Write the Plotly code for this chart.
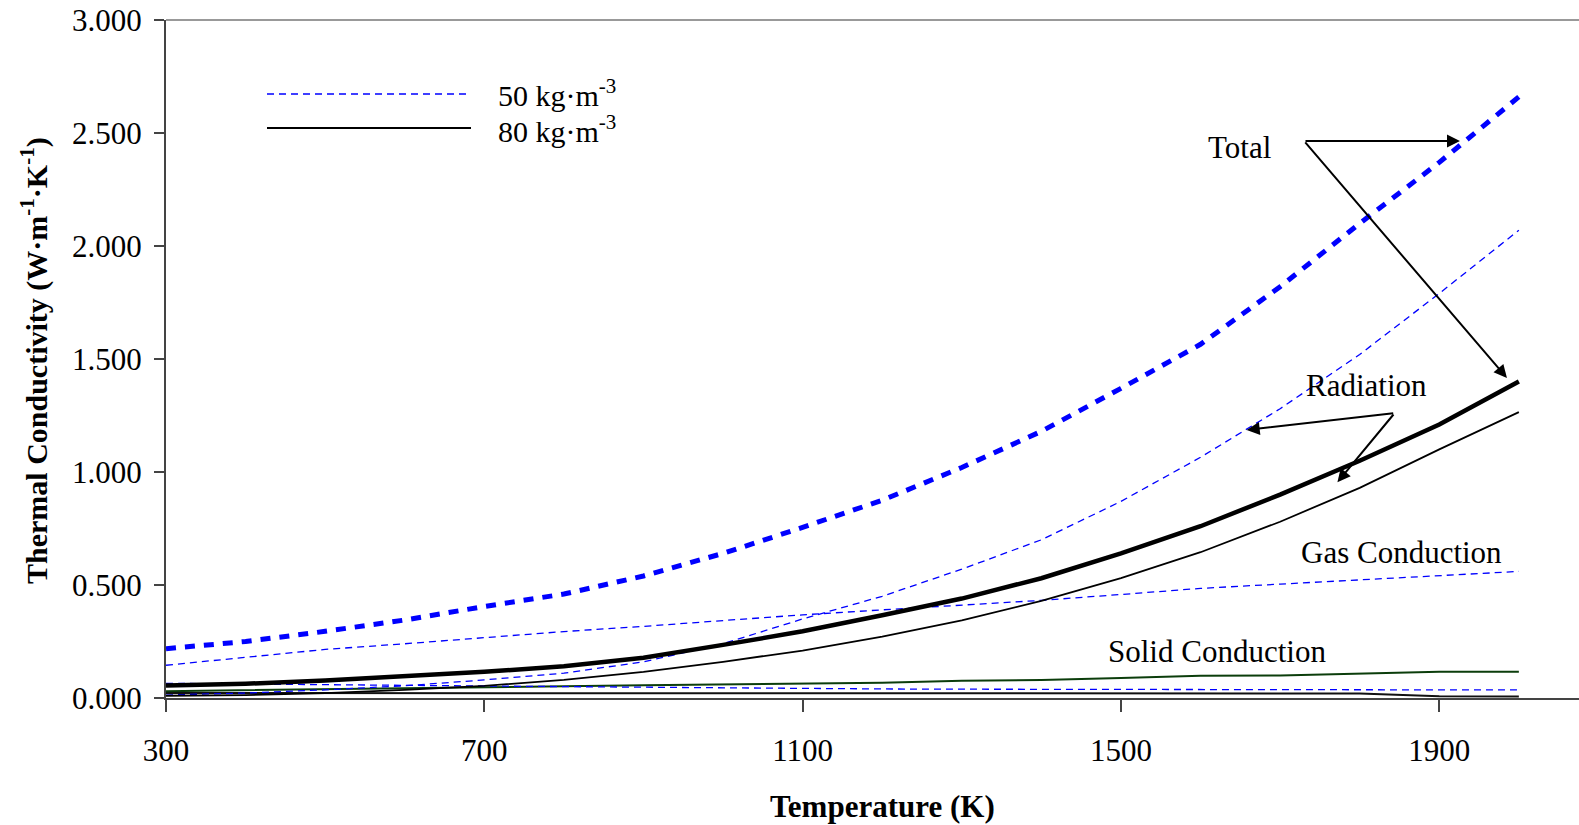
import plotly.graph_objects as go

temperature = [300, 400, 500, 600, 700, 800, 900, 1000, 1100, 1200,
               1300, 1400, 1500, 1600, 1700, 1800, 1900, 2000]

# 50 kg/m3 (blue)
total_50 = [0.218, 0.250, 0.295, 0.345, 0.405, 0.460, 0.540, 0.640, 0.755, 0.875,
            1.020, 1.180, 1.370, 1.565, 1.820, 2.100, 2.370, 2.660]
radiation_50 = [0.013, 0.022, 0.036, 0.054, 0.080, 0.110, 0.160, 0.240, 0.350, 0.450,
                0.570, 0.700, 0.870, 1.065, 1.280, 1.520, 1.790, 2.070]
gas_50 = [0.145, 0.180, 0.215, 0.240, 0.268, 0.294, 0.317, 0.343, 0.368, 0.390,
          0.410, 0.432, 0.458, 0.485, 0.504, 0.522, 0.540, 0.560]
solid_50 = [0.065, 0.063, 0.060, 0.056, 0.053, 0.050, 0.048, 0.045, 0.042, 0.040,
            0.039, 0.038, 0.038, 0.037, 0.037, 0.036, 0.036, 0.036]

# 80 kg/m3 (black / green)
total_80 = [0.055, 0.063, 0.077, 0.095, 0.116, 0.140, 0.178, 0.235, 0.295, 0.366,
            0.440, 0.530, 0.640, 0.760, 0.900, 1.050, 1.210, 1.400]
radiation_80 = [0.010, 0.013, 0.022, 0.036, 0.054, 0.080, 0.116, 0.160, 0.210, 0.272,
                0.343, 0.430, 0.530, 0.645, 0.780, 0.930, 1.100, 1.265]
conduction_80 = [0.030, 0.035, 0.040, 0.044, 0.047, 0.052, 0.056, 0.060, 0.062, 0.068,
                 0.076, 0.080, 0.089, 0.098, 0.100, 0.108, 0.116, 0.116]
solid_80 = [0.022, 0.022, 0.022, 0.022, 0.022, 0.022, 0.022, 0.022, 0.022, 0.022,
            0.022, 0.022, 0.021, 0.021, 0.021, 0.020, 0.008, 0.007]

x_ticks = [300, 700, 1100, 1500, 1900]
y_ticks = [0.0, 0.5, 1.0, 1.5, 2.0, 2.5, 3.0]

BLUE = "#0000ff"
FONT = "Liberation Serif"

fig = go.Figure()

def add(y, color, width, dash):
    fig.add_trace(go.Scatter(x=temperature, y=y, mode="lines",
                             line=dict(color=color, width=width, dash=dash),
                             showlegend=False, hoverinfo="skip"))

add(solid_80, "#111111", 2, "solid")
add(conduction_80, "#0b3d0b", 2, "solid")
add(solid_50, BLUE, 1.3, "7px,5px")
add(gas_50, BLUE, 1.3, "7px,5px")
add(radiation_50, BLUE, 1.3, "7px,5px")
add(radiation_80, "#000000", 1.8, "solid")
add(total_80, "#000000", 4.5, "solid")
add(total_50, BLUE, 5, "10px,9px")

L, T, W, H = 166, 20, 1413, 678

def px(xp):
    return (xp - L) / W

def py(yp):
    return (T + H - yp) / H

annotations = []
shapes = []

# legend
shapes.append(dict(type="line", xref="paper", yref="paper", x0=px(267), x1=px(471),
                   y0=py(94), y1=py(94), line=dict(color=BLUE, width=1.5, dash="7px,5px")))
shapes.append(dict(type="line", xref="paper", yref="paper", x0=px(267), x1=px(471),
                   y0=py(128), y1=py(128), line=dict(color="#000000", width=2)))
annotations.append(dict(text="50 kg·m<sup>-3</sup>", xref="paper", yref="paper",
                        x=px(496), y=py(93), xanchor="left", yanchor="middle",
                        showarrow=False, font=dict(family=FONT, size=30, color="black")))
annotations.append(dict(text="80 kg·m<sup>-3</sup>", xref="paper", yref="paper",
                        x=px(496), y=py(129), xanchor="left", yanchor="middle",
                        showarrow=False, font=dict(family=FONT, size=30, color="black")))

# top border
shapes.append(dict(type="line", xref="paper", yref="paper", x0=0, x1=1, y0=1, y1=1,
                   line=dict(color="#999999", width=2)))

# labels
for txt, xx, yy in [("Total", 1239, 147), ("Radiation", 1366, 386),
                    ("Gas Conduction", 1401, 552), ("Solid Conduction", 1217, 651)]:
    annotations.append(dict(text=txt, xref="paper", yref="paper", x=px(xx), y=py(yy),
                            xanchor="center", yanchor="middle", showarrow=False,
                            font=dict(family=FONT, size=31, color="black")))

# arrows (tail -> head) in data coordinates
arrows = [((1730, 2.465), (1926, 2.465)),
          ((1730, 2.465), (1985, 1.416)),
          ((1844, 1.261), (1658, 1.186)),
          ((1844, 1.261), (1772, 0.955))]
for (tx, ty), (hx, hy) in arrows:
    annotations.append(dict(text="", x=hx, y=hy, ax=tx, ay=ty, xref="x", yref="y",
                            axref="x", ayref="y", showarrow=True, arrowhead=2,
                            arrowsize=1.3, arrowwidth=2, arrowcolor="black"))

# axis titles
annotations.append(dict(text="<b>Temperature (K)</b>", xref="paper", yref="paper",
                        x=px(882), y=py(806), xanchor="center", yanchor="middle",
                        showarrow=False, font=dict(family=FONT, size=31, color="black")))
annotations.append(dict(text="<b>Thermal Conductivity (W·m<sup>-1</sup>·K<sup>-1</sup>)</b>",
                        xref="paper", yref="paper", x=px(35), y=py(361), textangle=-90,
                        xanchor="center", yanchor="middle", showarrow=False,
                        font=dict(family=FONT, size=30, color="black")))

fig.update_layout(
    width=1579, height=825,
    margin=dict(l=L, r=0, t=T, b=825 - T - H, pad=0),
    paper_bgcolor="white", plot_bgcolor="white",
    font=dict(family=FONT, size=31, color="black"),
    shapes=shapes, annotations=annotations,
    xaxis=dict(range=[300, 300 + W / 0.7958], tickvals=x_ticks,
               ticktext=[str(v) for v in x_ticks], showgrid=False, zeroline=False,
               showline=True, linecolor="#444444", linewidth=2, ticks="outside",
               ticklen=12, tickwidth=1.5, tickcolor="#444444", ticklabelstandoff=12,
               tickfont=dict(family=FONT, size=31, color="black")),
    yaxis=dict(range=[0, 3], tickvals=y_ticks, ticktext=[f"{v:.3f}" for v in y_ticks],
               showgrid=False, zeroline=False, showline=True, linecolor="#444444",
               linewidth=2, ticks="outside", ticklen=10, tickwidth=1.5,
               tickcolor="#444444", ticklabelstandoff=6,
               tickfont=dict(family=FONT, size=31, color="black")),
)

fig.write_html("out.html")
